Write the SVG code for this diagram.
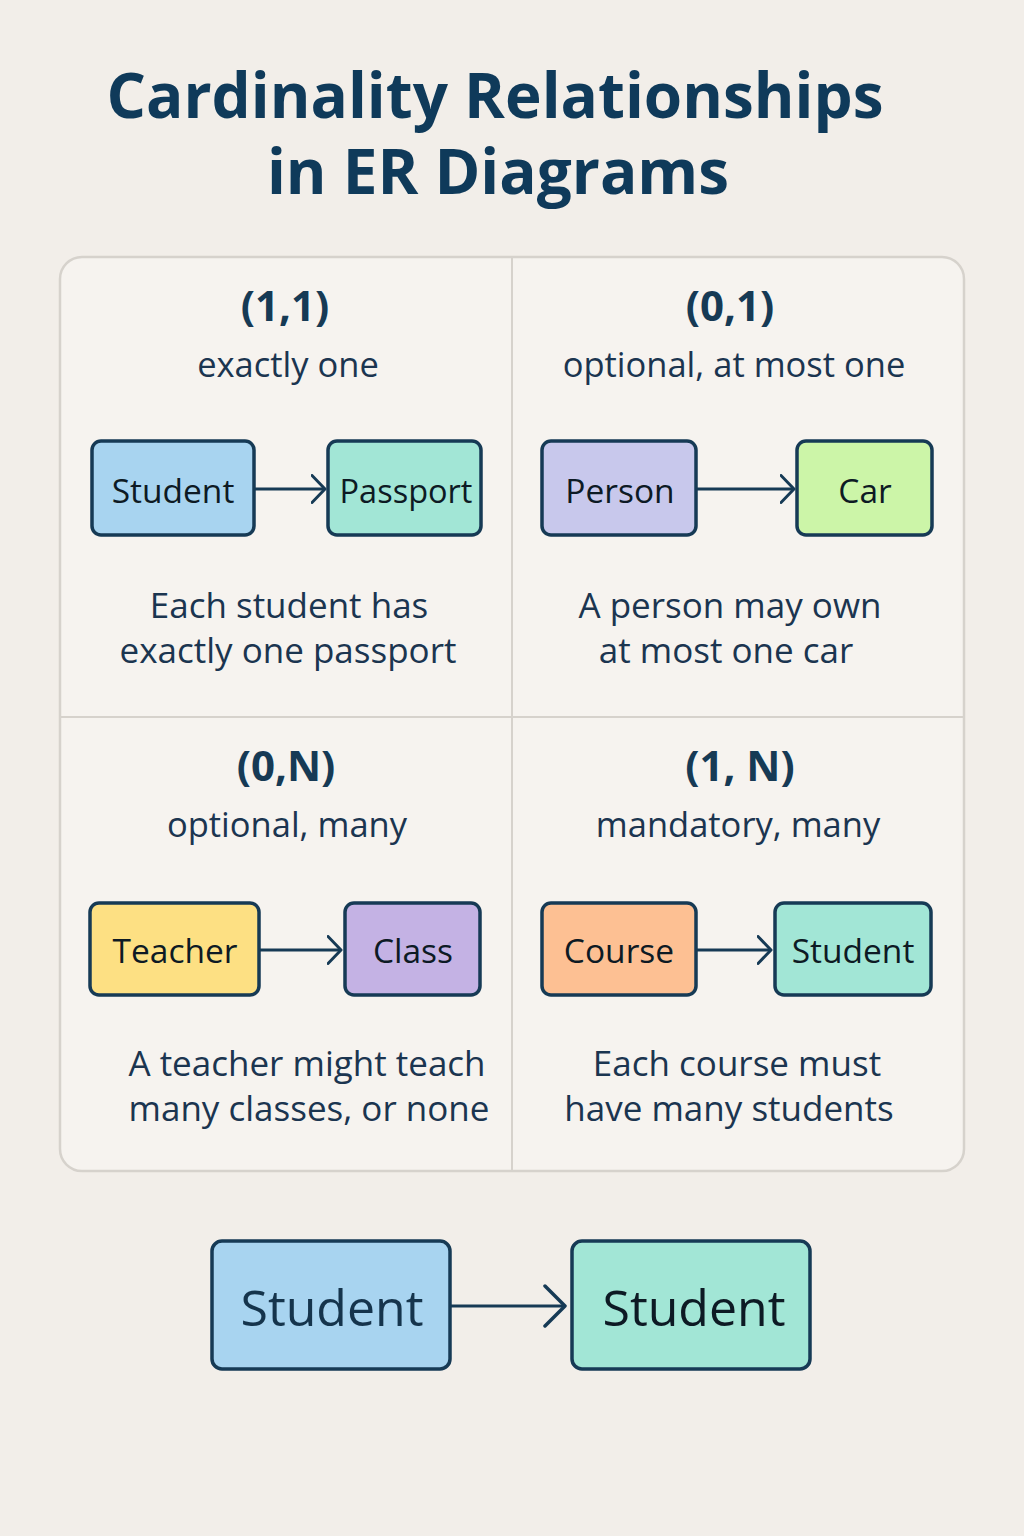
<svg xmlns="http://www.w3.org/2000/svg" width="1024" height="1536" viewBox="0 0 1024 1536">
  <defs>
    <style>
      .title { font-family: "Open Sans", "Noto Sans", sans-serif; font-weight: 700; font-size: 62px; fill: #0f3a5a; text-anchor: middle; }
      .card { font-family: "Open Sans", "Noto Sans", sans-serif; font-weight: 700; font-size: 42px; fill: #163a55; text-anchor: middle; }
      .sub { font-family: "Open Sans", "Noto Sans", sans-serif; font-size: 34.5px; fill: #1b3550; text-anchor: middle; }
      .desc { font-family: "Open Sans", "Noto Sans", sans-serif; font-size: 35px; fill: #1b3550; text-anchor: middle; }
      .node rect { stroke: #163a55; stroke-width: 3.5; }
      .node text { font-family: "Open Sans", "Noto Sans", sans-serif; font-size: 33.5px; fill: #0d1a24; text-anchor: middle; dominant-baseline: central; }
      .big text { font-size: 50px; }
      .edge { stroke: #163a55; stroke-width: 3; fill: none; }
    </style>
    <marker id="arrow" viewBox="0 0 16 30" refX="14.5" refY="15" markerWidth="16" markerHeight="30" markerUnits="userSpaceOnUse" orient="auto">
      <path d="M1.5,1.5 L14.5,15 L1.5,28.5" fill="none" stroke="#163a55" stroke-width="3" stroke-linecap="round" stroke-linejoin="round"/>
    </marker>
    <marker id="arrowBig" viewBox="0 0 24 44" refX="22" refY="22" markerWidth="24" markerHeight="44" markerUnits="userSpaceOnUse" orient="auto">
      <path d="M2,2 L22,22 L2,42" fill="none" stroke="#163a55" stroke-width="3.5" stroke-linecap="round" stroke-linejoin="round"/>
    </marker>
  </defs>

  <!-- page background -->
  <rect x="0" y="0" width="1024" height="1536" fill="#f2eee9"/>

  <!-- heading -->
  <text class="title" x="495" y="118">Cardinality Relationships</text>
  <text class="title" x="498" y="194">in ER Diagrams</text>

  <!-- four-quadrant panel -->
  <g id="panel">
    <rect x="60" y="257" width="904" height="914" rx="22" fill="#f6f3ef" stroke="#d6d2cc" stroke-width="2.5"/>
    <line x1="512" y1="258" x2="512" y2="1170" stroke="#d6d2cc" stroke-width="2"/>
    <line x1="61" y1="717" x2="963" y2="717" stroke="#d6d2cc" stroke-width="2"/>
  </g>

  <!-- quadrant headings and descriptions -->
  <g id="q11-text">
    <text class="card" x="285" y="321">(1,1)</text>
    <text class="sub" x="288" y="377">exactly one</text>
    <text class="desc" x="289" y="618">Each student has</text>
    <text class="desc" x="288" y="663">exactly one passport</text>
  </g>
  <g id="q01-text">
    <text class="card" x="730" y="321">(0,1)</text>
    <text class="sub" x="734" y="377">optional, at most one</text>
    <text class="desc" x="730" y="618">A person may own</text>
    <text class="desc" x="726" y="663">at most one car</text>
  </g>
  <g id="q0N-text">
    <text class="card" x="286" y="781">(0,N)</text>
    <text class="sub" x="287" y="837">optional, many</text>
    <text class="desc" x="307" y="1076">A teacher might teach</text>
    <text class="desc" x="309" y="1121">many classes, or none</text>
  </g>
  <g id="q1N-text">
    <text class="card" x="740" y="781">(1, N)</text>
    <text class="sub" x="738" y="837">mandatory, many</text>
    <text class="desc" x="737" y="1076">Each course must</text>
    <text class="desc" x="729" y="1121">have many students</text>
  </g>

  <!-- connectors -->
  <g id="connectors">
    <line class="edge" x1="255" y1="489" x2="325" y2="489" marker-end="url(#arrow)"/>
    <line class="edge" x1="697" y1="489" x2="794" y2="489" marker-end="url(#arrow)"/>
    <line class="edge" x1="260" y1="950" x2="341" y2="950" marker-end="url(#arrow)"/>
    <line class="edge" x1="697" y1="950" x2="771" y2="950" marker-end="url(#arrow)"/>
    <line class="edge" x1="451" y1="1306" x2="565" y2="1306" stroke-width="3.5" marker-end="url(#arrowBig)"/>
  </g>

  <!-- entity nodes -->
  <g id="node-student" class="node">
    <rect x="92" y="441" width="162" height="94" rx="9" fill="#a8d4f0"/>
    <text x="173" y="490">Student</text>
  </g>
  <g id="node-passport" class="node">
    <rect x="328" y="441" width="153" height="94" rx="9" fill="#a2e6d6"/>
    <text x="406" y="490" style="font-size:32.5px">Passport</text>
  </g>
  <g id="node-person" class="node">
    <rect x="542" y="441" width="154" height="94" rx="9" fill="#c8c8ec"/>
    <text x="620" y="490">Person</text>
  </g>
  <g id="node-car" class="node">
    <rect x="797" y="441" width="135" height="94" rx="9" fill="#ccf5a8"/>
    <text x="865" y="490">Car</text>
  </g>
  <g id="node-teacher" class="node">
    <rect x="90" y="903" width="169" height="92" rx="9" fill="#fde083"/>
    <text x="175" y="950">Teacher</text>
  </g>
  <g id="node-class" class="node">
    <rect x="345" y="903" width="135" height="92" rx="9" fill="#c4b2e4"/>
    <text x="413" y="950">Class</text>
  </g>
  <g id="node-course" class="node">
    <rect x="542" y="903" width="154" height="92" rx="9" fill="#fdc093"/>
    <text x="619" y="950">Course</text>
  </g>
  <g id="node-student2" class="node">
    <rect x="775" y="903" width="156" height="92" rx="9" fill="#a2e6d6"/>
    <text x="853" y="950">Student</text>
  </g>
  <g id="node-student-big-a" class="node big">
    <rect x="212" y="1241" width="238" height="128" rx="10" fill="#a8d4f0"/>
    <text x="332" y="1307" style="fill:#15344c">Student</text>
  </g>
  <g id="node-student-big-b" class="node big">
    <rect x="572" y="1241" width="238" height="128" rx="10" fill="#a2e6d6"/>
    <text x="694" y="1307">Student</text>
  </g>
</svg>
